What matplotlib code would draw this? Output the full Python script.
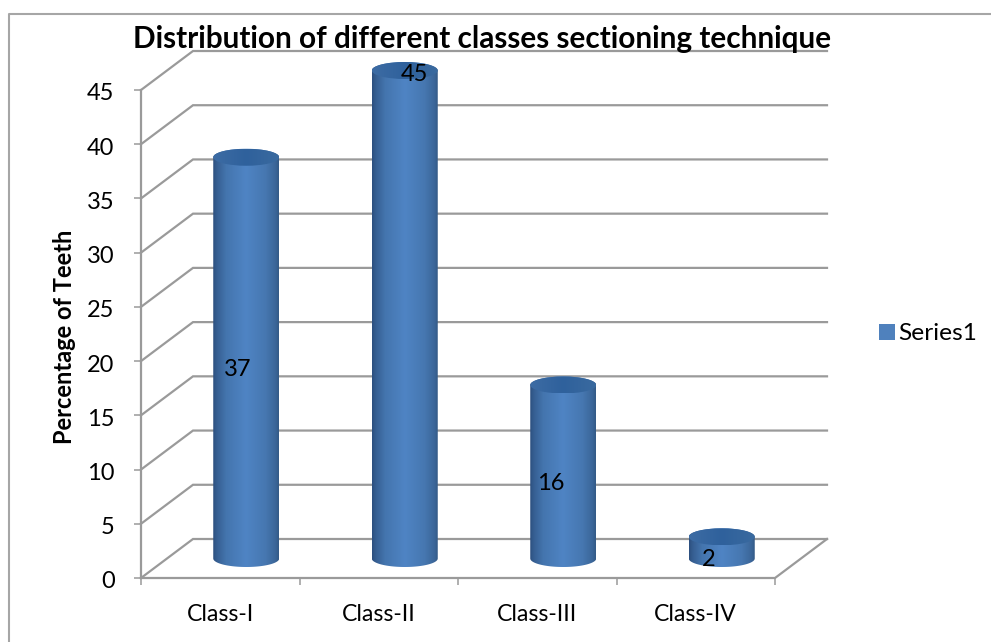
import numpy as np
import matplotlib
matplotlib.use("Agg")
import matplotlib.pyplot as plt
from matplotlib.path import Path
from matplotlib.patches import PathPatch, Ellipse, Patch
from matplotlib.colors import LinearSegmentedColormap
from matplotlib.transforms import ScaledTranslation

categories = ["Class-I", "Class-II", "Class-III", "Class-IV"]
values = [37, 45, 16, 2]
y_ticks = [0, 5, 10, 15, 20, 25, 30, 35, 40, 45]
title = "Distribution of different classes sectioning technique"
y_label = "Percentage of Teeth"
series_name = "Series1"

W, H = 991, 642
plt.rcParams["font.family"] = ["Lato", "DejaVu Sans"]
fig = plt.figure(figsize=(W / 100, H / 100), dpi=100, facecolor="white")

# front plane: x 141..775 px, y 578..90 px; depth shift 52 px right, 39 px up
unit_x = (775 - 141) / 4
unit_y = (578 - 90) / 45
dx = 52 / unit_x
dy = 39 / unit_y
L, R, B, T = 141, 827, 578, 50
ax = fig.add_axes([L / W, 1 - B / H, (R - L) / W, (B - T) / H])
for s in ax.spines.values():
    s.set_visible(False)
ax.patch.set_alpha(0)

GRID = "#9a9a9a"
lw = 1.6
for v in y_ticks:
    ax.plot([0, dx, len(categories) + dx], [v, v + dy, v + dy], color=GRID, lw=lw, zorder=1,
            solid_joinstyle="miter", clip_on=False)
ax.plot([0, 0], [0, y_ticks[-1]], color=GRID, lw=lw, zorder=1, clip_on=False)
ax.plot([0, len(categories), len(categories) + dx], [0, 0, dy], color=GRID, lw=lw, zorder=1, clip_on=False)

ax.set_yticks(y_ticks)
ax.set_xticks(range(len(categories) + 1))
ax.set_xticklabels([])
ax.set_xticks([i + 0.5 for i in range(len(categories))], minor=True)
ax.set_xticklabels(categories, minor=True)
ax.tick_params(axis="y", length=5, width=1.1, color=GRID, labelsize=17, pad=14)
ax.tick_params(axis="x", which="major", length=5, width=1.1, color=GRID)
ax.tick_params(axis="x", which="minor", length=0, labelsize=16.6, pad=18.5)
for lab in ax.get_yticklabels():
    lab.set_transform(lab.get_transform() + ScaledTranslation(0, -2 / 100, fig.dpi_scale_trans))

# horizontal shading of a cylinder
stops = [(0.0, "#2c4f7e"), (0.05, "#355d90"), (0.2, "#4475ae"), (0.5, "#4f84c4"),
         (0.8, "#4677b0"), (0.95, "#3b6699"), (1.0, "#335a86")]
body_cmap = LinearSegmentedColormap.from_list("body", stops)
top_cmap = LinearSegmentedColormap.from_list("top", [(0, "#3d6ca4"), (0.5, "#2f619c"), (1, "#3a6a9f")])
grad = np.linspace(0, 1, 256)[None, :]

half_w = 33 / unit_x
ry = 8.5 / unit_y
t = np.linspace(np.pi, 2 * np.pi, 60)
label_dx = [-9, 10, -12, -13]
for i, v in enumerate(values):
    cx = i + 0.5 + dx / 2
    cy = dy / 2
    lower = np.c_[cx + half_w * np.cos(t), cy + ry * np.sin(t)]
    upper = np.c_[cx + half_w * np.cos(t[::-1]), cy + v - ry * np.sin(t[::-1])]
    outline = np.vstack([lower, upper, lower[:1]])
    clip = PathPatch(Path(outline), transform=ax.transData, fc="none", ec="none")
    ax.add_patch(clip)
    im = ax.imshow(grad, cmap=body_cmap, aspect="auto", zorder=3,
                   extent=[cx - half_w, cx + half_w, cy - ry, cy + v + ry], interpolation="bilinear")
    im.set_clip_path(clip)
    cap = Ellipse((cx, cy + v), 2 * half_w, 2 * ry, transform=ax.transData, fc="none", ec="none")
    ax.add_patch(cap)
    im2 = ax.imshow(grad, cmap=top_cmap, aspect="auto", zorder=4,
                    extent=[cx - half_w, cx + half_w, cy + v - ry, cy + v + ry], interpolation="bilinear")
    im2.set_clip_path(cap)
    label_y = v + 1.7 if v == max(values) else v / 2 + 1
    ax.annotate(str(v), (cx, label_y), xytext=(label_dx[i] * 0.72, -2), textcoords="offset points",
                ha="center", va="center", fontsize=17, color="black", zorder=6)

ax.set_xlim(0, len(categories) + dx)
ax.set_ylim(0, (B - T) / unit_y)

# chart area frame: top and left edges only
fig.add_artist(plt.Line2D([9 / W, 9 / W, 1], [0, 1 - 14 / H, 1 - 14 / H], color="#a6a6a6", lw=1.5))

fig.text(482 / W, 1 - 48 / H, title, ha="center", va="baseline", fontsize=21.4, fontweight="bold", zorder=10)
fig.text(64 / W, 1 - 337 / H, y_label, rotation=90, ha="center", va="center", fontsize=17, fontweight="bold")

fig.legend(handles=[Patch(fc="#4f81bd", ec="none", label=series_name)], loc="center left",
           bbox_to_anchor=(874 / W, 1 - 334 / H), frameon=False, fontsize=17.6,
           handlelength=0.66, handleheight=0.66, handletextpad=0.12, borderpad=0.2, borderaxespad=0)

fig.savefig("out.png", dpi=100, facecolor="white")
